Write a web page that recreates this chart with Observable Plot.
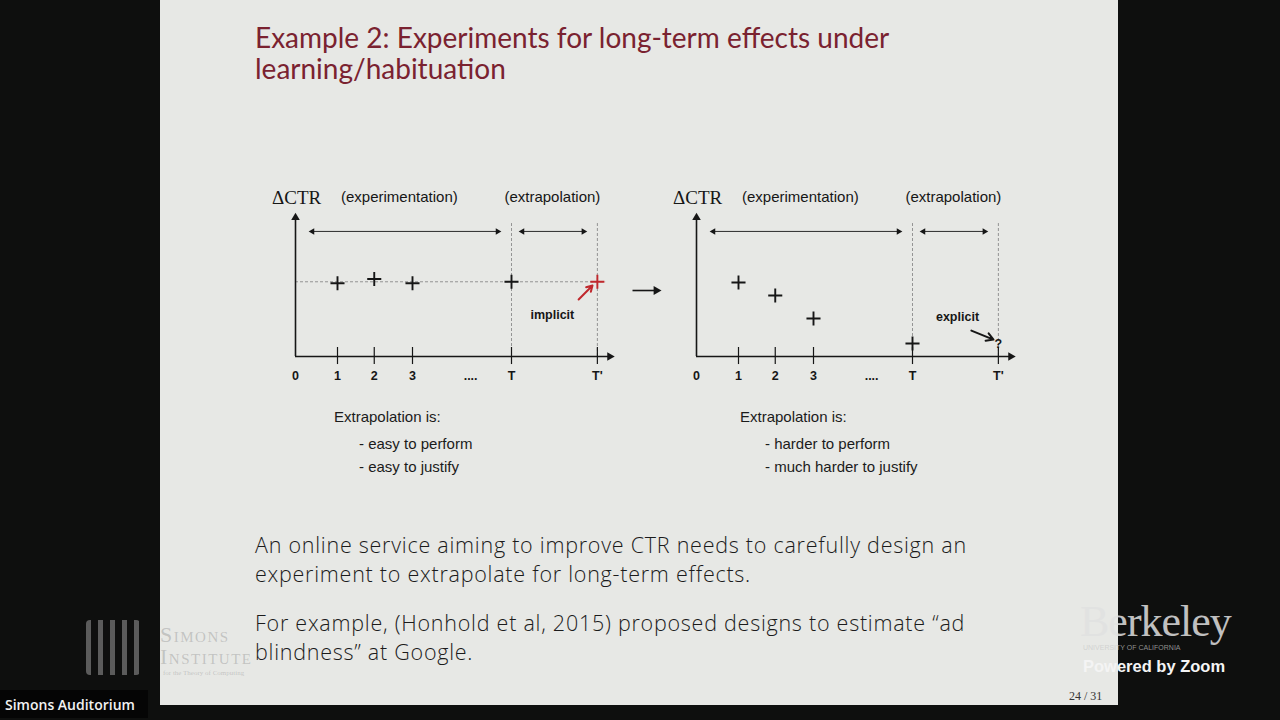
<!DOCTYPE html>
<html>
<head>
<meta charset="utf-8">
<script src="https://cdn.jsdelivr.net/npm/d3@7"></script>
<script src="https://cdn.jsdelivr.net/npm/@observablehq/plot@0.6"></script>
<style>
  html, body { margin:0; padding:0; width:1280px; height:720px; background:#0e0f0e; overflow:hidden; }
  #slide { position:absolute; left:160px; top:0; width:958px; height:705px; background:#e7e8e5; }
  .abs { position:absolute; white-space:nowrap; }
  .title { color:#7a2230; font-family:Lato, "Open Sans", sans-serif; font-size:28px; line-height:31px; }
  .body { color:#1b1b1b; font-family:"Open Sans", Lato, sans-serif; font-weight:350; font-size:21.5px; letter-spacing:0.75px; line-height:29px; }
  .note { color:#1b1b1b; font-family:"Liberation Sans", Arial, sans-serif; font-size:15px; }
  .chart { position:absolute; }
  .simons { position:absolute; left:160px; font-family:'Liberation Serif',serif; font-size:22px; font-variant:small-caps; letter-spacing:1.5px; color:rgba(150,150,150,0.45); line-height:22px; white-space:nowrap; }
</style>
</head>
<body>
<div id="slide"></div>
<div class="abs title" style="left:255px; top:22px;">Example 2: Experiments for long-term effects under<br>learning/habituation</div>

<div class="abs note" style="left:334px; top:408px;">Extrapolation is:</div>
<div class="abs note" style="left:359px; top:435px;">- easy to perform</div>
<div class="abs note" style="left:359px; top:458px;">- easy to justify</div>
<div class="abs note" style="left:740px; top:408px;">Extrapolation is:</div>
<div class="abs note" style="left:765px; top:435px;">- harder to perform</div>
<div class="abs note" style="left:765px; top:458px;">- much harder to justify</div>

<div class="abs body" style="left:255px; top:530px;">An online service aiming to improve CTR needs to carefully design an<br>experiment to extrapolate for long-term effects.</div>
<div class="abs body" style="left:255px; top:608px;">For example, (Honhold et al, 2015) proposed designs to estimate “ad<br>blindness” at Google.</div>

<div class="simons" style="top:624px;">Simons</div>
<div class="simons" style="top:646px;">Institute</div>
<div class="abs" style="left:163px; top:669px; font-family:'Liberation Serif',serif; font-size:7px; color:rgba(150,150,150,0.45);">for the Theory of Computing</div>
<div class="abs" style="left:86px; top:620px; width:54px; height:55px; border-radius:4px; background:repeating-linear-gradient(90deg,#9a9a9a 0 5px,transparent 5px 12px); opacity:0.55;"></div>

<div class="abs" style="left:1080px; top:596px; font-family:'Liberation Serif',serif; font-size:44px; color:rgba(225,225,225,0.85); letter-spacing:-1px;">Berkeley</div>
<div class="abs" style="left:1083px; top:644px; font-family:'Liberation Sans',sans-serif; font-size:7px; color:rgba(200,200,200,0.7);">UNIVERSITY OF CALIFORNIA</div>
<div class="abs" style="left:1083px; top:657px; font-family:'Liberation Sans',Arial,sans-serif; font-weight:bold; font-size:16.5px; color:#f4f4f4;">Powered by Zoom</div>
<div class="abs" style="left:1069px; top:689px; font-family:'Liberation Serif',serif; font-size:12px; color:#333;">24 / 31</div>
<div class="abs" style="left:0; top:690px; width:148px; height:28px; background:#050505;"></div>
<div class="abs" style="left:5px; top:695px; font-family:'Open Sans',sans-serif; font-size:14px; font-weight:600; color:#f2f2f2;">Simons Auditorium</div>

<div id="c1" class="chart" style="left:260px; top:180px;"></div>
<div id="c2" class="chart" style="left:661px; top:180px;"></div>

<script>
// ---- data ----
const tickLabels = ["0", "1", "2", "3", "....", "T", "T'"];
const tickPos    = [0, 1.12, 2.1, 3.12, 4.67, 5.76, 8.05];
const obsX       = [1.12, 2.1, 3.12, 5.76];
const leftY      = [5.2, 5.5, 5.2, 5.3];      // ΔCTR, learning-free case
const leftPred   = 5.3;                        // implicit extrapolation at T'
const rightY     = [5.25, 4.33, 2.7, 0.92];    // ΔCTR, habituation case
const rightPred  = 0.92;                       // "?" at T'
const headers    = ["ΔCTR", "(experimentation)", "(extrapolation)"];
const headerX    = [0.03, 2.77, 6.85];
const spanStart  = [0.45, 6.05];
const spanEnd    = [5.39, 7.68];

const ink = "#161616";
const sans = "Liberation Sans, Arial, sans-serif";

function chart(ys, opts) {
  const pts = obsX.map((x, i) => ({x, y: ys[i]}));
  const tlab = tickLabels.map((t, i) => ({t, x: tickPos[i]}));
  const tmarks = tlab.filter(d => d.t !== "0" && d.t !== "....");
  const tT = tickPos[5], tP = tickPos[6];
  const hdr = headers.map((h, i) => ({h, x: headerX[i]}));
  const spans = spanStart.map((s, i) => ({x1: s, x2: spanEnd[i]}));
  const ends = spans.flatMap(d => [{x: d.x1, r: -90}, {x: d.x2, r: 90}]);
  const marks = [
    // dashed guides
    Plot.ruleX([tT, tP], {y1: 0, y2: 9.43, stroke: "#8a8a8a", strokeWidth: 0.9, strokeDasharray: "3,2"}),
    ...opts.extra,
    // axes
    Plot.ruleY([0], {x1: 0, x2: 8.35, stroke: ink, strokeWidth: 1.6}),
    Plot.ruleX([0], {y1: 0, y2: 9.8, stroke: ink, strokeWidth: 1.6}),
    Plot.dot([{x: 8.38, y: 0}], {x: "x", y: "y", symbol: "triangle", r: 3.2, fill: ink, rotate: 90}),
    Plot.dot([{x: 0, y: 9.85}], {x: "x", y: "y", symbol: "triangle", r: 3.2, fill: ink}),
    // ticks
    Plot.ruleX(tmarks, {x: "x", y1: -0.57, y2: 0.64, stroke: ink, strokeWidth: 1.2}),
    Plot.text(tlab, {x: "x", y: -1.38, text: "t", fontWeight: "bold", fontSize: 12.5, fill: ink, fontFamily: sans}),
    // span arrows
    Plot.ruleY(spans, {x1: "x1", x2: "x2", y: 8.87, stroke: ink, strokeWidth: 0.9}),
    Plot.dot(ends, {x: "x", y: 8.87, rotate: "r", symbol: "triangle", r: 2.4, fill: ink}),
    // headers
    Plot.text(hdr.slice(0, 1), {x: "x", y: 11.28, text: "h", fontSize: 19, fill: ink, fontFamily: "Liberation Serif, Times, serif"}),
    Plot.text(hdr.slice(1), {x: "x", y: 11.28, text: "h", fontSize: 15, fill: ink, fontFamily: sans}),
    // observations
    Plot.dot(pts, {x: "x", y: "y", symbol: "plus", r: 4.6, stroke: ink, strokeWidth: 1.9}),
    ...opts.after
  ];
  return Plot.plot({
    width: opts.width, height: 210,
    marginLeft: 35, marginRight: opts.width - 35 - 8.5 * 37.5, marginTop: 35, marginBottom: 34,
    x: {domain: [0, 8.5], axis: null},
    y: {domain: [0, 10], axis: null},
    style: {background: "transparent", overflow: "visible"},
    marks
  });
}

const left = chart(leftY, {
  width: 410,
  extra: [
    Plot.ruleY([leftPred], {x1: 0, x2: 8.27, stroke: "#8a8a8a", strokeWidth: 0.9, strokeDasharray: "3,2"})
  ],
  after: [
    Plot.dot([{x: tickPos[6], y: leftPred}], {x: "x", y: "y", symbol: "plus", r: 4.6, stroke: "#c0282d", strokeWidth: 1.9}),
    Plot.arrow([{x1: 7.55, y1: 4.04, x2: 7.92, y2: 5.04}], {x1: "x1", y1: "y1", x2: "x2", y2: "y2", stroke: "#c0282d", strokeWidth: 2, headLength: 6}),
    Plot.text(["implicit"], {x: 6.85, y: 2.91, text: d => d, fontWeight: "bold", fontSize: 12.5, fill: ink, fontFamily: sans}),
    // transition arrow between the two diagrams
    Plot.ruleY([4.68], {x1: 9.0, x2: 9.6, stroke: ink, strokeWidth: 1.6}),
    Plot.dot([{x: 9.62, y: 4.68}], {x: "x", y: "y", symbol: "triangle", r: 3.4, fill: ink, rotate: 90})
  ]
});

const right = chart(rightY, {
  width: 360,
  extra: [],
  after: [
    Plot.text(["?"], {x: tickPos[6], y: rightPred, text: d => d, fontWeight: "bold", fontSize: 12.5, fill: ink, fontFamily: sans}),
    Plot.arrow([{x1: 7.33, y1: 1.84, x2: 7.92, y2: 1.2}], {x1: "x1", y1: "y1", x2: "x2", y2: "y2", stroke: ink, strokeWidth: 2, headLength: 6}),
    Plot.text(["explicit"], {x: 6.96, y: 2.77, text: d => d, fontWeight: "bold", fontSize: 12.5, fill: ink, fontFamily: sans})
  ]
});

document.getElementById("c1").appendChild(left);
document.getElementById("c2").appendChild(right);
</script>
</body>
</html>
